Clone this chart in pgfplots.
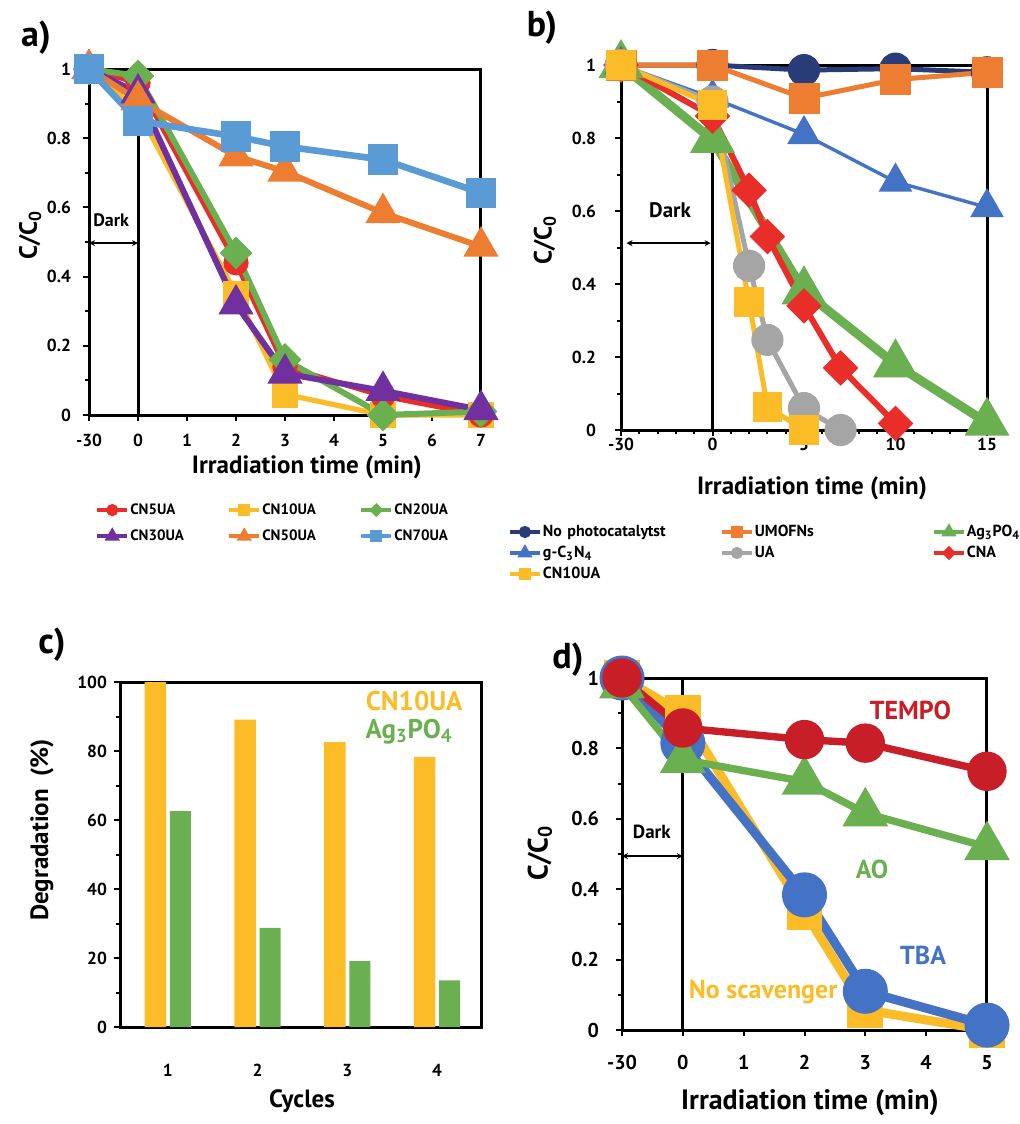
\documentclass[border=0pt]{standalone}
\usepackage{fontspec}
\setmainfont{PT Sans}
\usepackage{pgfplots}
\pgfplotsset{compat=1.18}
\usetikzlibrary{arrows.meta}

\definecolor{cred}{RGB}{233,45,40}
\definecolor{cgold}{RGB}{252,188,40}
\definecolor{cgreen}{RGB}{106,176,80}
\definecolor{cpurple}{RGB}{112,48,160}
\definecolor{corange}{RGB}{237,125,49}
\definecolor{clblue}{RGB}{91,155,213}
\definecolor{cnavy}{RGB}{40,60,120}
\definecolor{cbblue}{RGB}{68,114,196}
\definecolor{cgrey}{RGB}{165,165,165}
\definecolor{cdred}{RGB}{200,30,40}

\tikzset{dark/.style={<->, >={Stealth[length=3pt,width=3pt]}, line width=0.8pt}}
\pgfplotsset{
  panel/.style={
    scale only axis, clip=false,
    axis line style={line width=1.5pt},
    tick align=outside, xtick pos=bottom, ytick pos=left,
    major tick length=3pt, minor tick length=2pt,
    every tick/.style={black, line width=1pt},
    tick label style={font=\bfseries\fontsize{8.7}{10}\selectfont},
    /pgf/number format/assume math mode=true,
    label style={font=\bfseries\fontsize{12.5}{14}\selectfont},
    legend image code/.code={\draw[mark repeat=2,mark phase=2,#1] plot coordinates {(0pt,0pt) (7.5pt,0pt) (15pt,0pt)};},
    legend columns=3,
  },
}

\begin{document}
\begin{tikzpicture}
\useasboundingbox (0pt,0pt) rectangle (509.5pt,-562pt);

% ---------------- panel a ----------------
\begin{axis}[panel, at={(44.5pt,-207.5pt)}, anchor=south west, width=196pt, height=173pt,
  xmin=0, xmax=8, ymin=0, ymax=1,
  xtick={0,1,2,3,4,5,6,7,8}, xticklabels={-30,0,1,2,3,4,5,6,7},
  ytick={0,0.2,0.4,0.6,0.8,1}, minor ytick={0.1,0.3,0.5,0.7,0.9},
  xticklabel style={yshift=-3pt}, yticklabel style={xshift=-2.5pt},
  xlabel={Irradiation time (min)}, ylabel={C/C\textsubscript{0}},
  xlabel style={at={(ticklabel cs:0.556)}, anchor=north, inner sep=0pt, yshift=-1pt},
  ylabel style={at={(axis description cs:-0.15,0.52)}, anchor=center},
  legend style={at={(0.015,-0.252)}, anchor=north west, draw=none, fill=none, inner sep=0pt,
    font=\bfseries\fontsize{7.5}{8}\selectfont,
    nodes={inner xsep=0.5pt, inner ysep=0pt, text width=48pt, align=left, text height=6pt, text depth=1.5pt},
    row sep=5.5pt, column sep=0pt},
]
\addlegendimage{cred, line width=2pt, mark=*, mark size=2pt}
\addlegendentry{CN5UA}
\addlegendimage{cgold, line width=2pt, mark=square*, mark size=2pt}
\addlegendentry{CN10UA}
\addlegendimage{cgreen, line width=2pt, mark=square*, mark size=1.5pt, mark options={rotate=45}}
\addlegendentry{CN20UA}
\addlegendimage{cpurple, line width=2pt, mark=triangle*, mark size=2.4pt}
\addlegendentry{CN30UA}
\addlegendimage{corange, line width=2pt, mark=triangle*, mark size=2.4pt}
\addlegendentry{CN50UA}
\addlegendimage{clblue, line width=2pt, mark=square*, mark size=2pt}
\addlegendentry{CN70UA}

\addplot[forget plot, black, line width=1.5pt] coordinates {(1,0) (1,1)};
\draw[dark] (axis cs:0,0.497) -- (axis cs:1,0.497);
\node[anchor=west, font=\bfseries\fontsize{9}{10}\selectfont, inner sep=0pt] at (axis cs:0.08,0.564) {Dark};

\addplot[forget plot, cgold, line width=2.6pt, mark=square*, mark size=5.4pt]
  coordinates {(0,1) (1,0.88) (3,0.35) (4,0.06) (6,0.0) (8,0.0)};
\addplot[forget plot, cred, line width=2.6pt, mark=*, mark size=5pt]
  coordinates {(0,1) (1,0.96) (3,0.44) (4,0.14) (6,0.055) (8,0.0)};
\addplot[forget plot, cgreen, line width=3pt, mark=square*, mark size=4.3pt, mark options={rotate=45}]
  coordinates {(0,1) (1,0.98) (3,0.468) (4,0.16) (6,0.0) (8,0.01)};
\addplot[forget plot, cpurple, line width=3pt, mark=triangle*, mark size=7.2pt]
  coordinates {(0,1) (1,0.93) (3,0.32) (4,0.12) (6,0.07) (8,0.015)};
\addplot[forget plot, corange, line width=3pt, mark=triangle*, mark size=7.2pt]
  coordinates {(0,1) (1,0.91) (3,0.748) (4,0.704) (6,0.584) (8,0.487)};
\addplot[forget plot, clblue, line width=3.3pt, mark=square*, mark size=6pt]
  coordinates {(0,1) (1,0.85) (3,0.805) (4,0.776) (6,0.738) (8,0.642)};
\end{axis}

% ---------------- panel b ----------------
\begin{axis}[panel, at={(310.5pt,-215pt)}, anchor=south west, width=183pt, height=182.5pt,
  xmin=-5, xmax=15, ymin=0, ymax=1,
  xtick={-5,0,5,10,15}, xticklabels={-30,0,5,10,15},
  minor xtick={-4,-3,-2,-1,1,2,3,4,6,7,8,9,11,12,13,14},
  ytick={0,0.2,0.4,0.6,0.8,1}, minor ytick={0.1,0.3,0.5,0.7,0.9},
  xticklabel style={yshift=2.5pt}, yticklabel style={xshift=-6pt},
  xlabel={Irradiation time (min)}, ylabel={C/C\textsubscript{0}},
  xlabel style={at={(axis description cs:0.522,-0.159)}, anchor=center},
  ylabel style={at={(axis description cs:-0.208,0.52)}, anchor=center},
  legend style={at={(-0.31,-0.255)}, anchor=north west, draw=none, fill=none, inner sep=0pt,
    font=\bfseries\fontsize{8}{9}\selectfont,
    nodes={inner xsep=0.5pt, inner ysep=0pt, text width=88pt, align=left, text height=6.5pt, text depth=2pt},
    row sep=2pt, column sep=0pt},
]
\addlegendimage{cnavy, line width=2pt, mark=*, mark size=2pt}
\addlegendentry{No photocatalytst}
\addlegendimage{corange, line width=2pt, mark=square*, mark size=2pt}
\addlegendentry{UMOFNs}
\addlegendimage{cgreen, line width=2pt, mark=triangle*, mark size=2.4pt}
\addlegendentry{Ag\textsubscript{3}PO\textsubscript{4}}
\addlegendimage{cbblue, line width=2pt, mark=triangle*, mark size=2.4pt}
\addlegendentry{g-C\textsubscript{3}N\textsubscript{4}}
\addlegendimage{cgrey, line width=2pt, mark=*, mark size=2pt}
\addlegendentry{UA}
\addlegendimage{cred, line width=2pt, mark=square*, mark size=1.5pt, mark options={rotate=45}}
\addlegendentry{CNA}
\addlegendimage{cgold, line width=2pt, mark=square*, mark size=2pt}
\addlegendentry{CN10UA}

\addplot[forget plot, black, line width=1.5pt] coordinates {(0,0) (0,1)};
\draw[dark] (axis cs:-4.7,0.512) -- (axis cs:-0.1,0.512);
\node[font=\bfseries\fontsize{10.5}{12}\selectfont, inner sep=0pt] at (axis cs:-2.32,0.603) {Dark};

\addplot[forget plot, cnavy, line width=2.5pt, mark=*, mark size=6.8pt]
  coordinates {(-5,1) (0,1) (5,0.986) (10,0.99) (15,0.98)};
\addplot[forget plot, cgreen, line width=4.5pt, mark=triangle*, mark size=8.5pt]
  coordinates {(-5,1) (0,0.795) (5,0.38) (10,0.18) (15,0.02)};
\addplot[forget plot, cbblue, line width=1.7pt, mark=triangle*, mark size=8pt]
  coordinates {(-5,1) (0,0.91) (5,0.81) (10,0.68) (15,0.61)};
\addplot[forget plot, cred, line width=3pt, mark=square*, mark size=4.8pt, mark options={rotate=45}]
  coordinates {(-5,1) (0,0.86) (2,0.657) (3,0.53) (5,0.34) (7,0.17) (10,0.018)};
\addplot[forget plot, cgrey, line width=2.5pt, mark=*, mark size=6.8pt]
  coordinates {(-5,1) (0,0.9) (2,0.45) (3,0.247) (5,0.06) (7,0.0)};
\addplot[forget plot, corange, line width=2.5pt, mark=square*, mark size=6.5pt]
  coordinates {(-5,1) (0,1) (5,0.909) (10,0.96) (15,0.98)};
\addplot[forget plot, cgold, line width=2.5pt, mark=square*, mark size=6.2pt]
  coordinates {(-5,1) (0,0.89) (2,0.35) (3,0.064) (5,0.0)};
\end{axis}

% ---------------- panel c ----------------
\begin{axis}[panel, at={(60pt,-513.5pt)}, anchor=south west, width=180.5pt, height=172.5pt,
  xmin=0.467, xmax=4.489, ymin=0, ymax=100,
  xtick={1,2,3,4}, major x tick style={draw=none},
  ytick={0,20,40,60,80,100}, minor ytick={10,30,50,70,90},
  xticklabel style={yshift=-12pt}, yticklabel style={xshift=0pt},
  xlabel={Cycles}, ylabel={Degradation\ \ (\%)},
  xlabel style={at={(ticklabel cs:0.504)}, anchor=north, inner sep=0pt, yshift=-3pt},
  ylabel style={at={(axis description cs:-0.216,0.571)}, anchor=center},
]
\addplot[ybar, forget plot, fill=cgold, draw=none, bar width=0.24, bar shift=-0.14]
  coordinates {(1,100) (2,89.1) (3,82.6) (4,78.3)};
\addplot[ybar, forget plot, fill=cgreen, draw=none, bar width=0.235, bar shift=0.14]
  coordinates {(1,62.6) (2,28.7) (3,19.1) (4,13.5)};
\node[text=cgold, font=\bfseries\fontsize{13.5}{14}\selectfont, inner sep=0pt] at (axis cs:3.745,94.6) {CN10UA};
\node[text=cgreen, font=\bfseries\fontsize{13.5}{14}\selectfont, inner sep=0pt] at (axis cs:3.689,85.6) {Ag\textsubscript{3}PO\textsubscript{4}};
\end{axis}

% ---------------- panel d ----------------
\begin{axis}[panel, at={(311pt,-515pt)}, anchor=south west, width=182.5pt, height=176pt,
  xmin=0, xmax=6, ymin=0, ymax=1,
  xtick={0,1,2,3,4,5,6}, xticklabels={-30,0,1,2,3,4,5},
  ytick={0,0.2,0.4,0.6,0.8,1}, minor ytick={0.1,0.3,0.5,0.7,0.9},
  tick label style={font=\bfseries\fontsize{10}{11}\selectfont},
  xticklabel style={yshift=-6pt}, yticklabel style={xshift=-5pt},
  xlabel={Irradiation time (min)}, ylabel={C/C\textsubscript{0}},
  label style={font=\bfseries\fontsize{14}{15}\selectfont},
  xlabel style={at={(axis description cs:0.515,-0.207)}, anchor=center},
  ylabel style={at={(axis description cs:-0.225,0.503)}, anchor=center},
]
\addplot[forget plot, black, line width=1.5pt] coordinates {(1,0) (1,1)};
\draw[dark] (axis cs:0,0.494) -- (axis cs:1,0.494);
\node[font=\bfseries\fontsize{9.5}{11}\selectfont, inner sep=0pt] at (axis cs:0.49,0.5625) {Dark};

\addplot[forget plot, cgold, line width=4.5pt, mark=square*, mark size=6.7pt]
  coordinates {(0,1) (1,0.9) (3,0.336) (4,0.057) (6,0.0)};
\addplot[forget plot, cbblue, line width=4.5pt, mark=*, mark size=9pt]
  coordinates {(0,1) (1,0.815) (3,0.384) (4,0.11) (6,0.014)};
\addplot[forget plot, cgreen, line width=3.7pt, mark=triangle*, mark size=9.5pt]
  coordinates {(0,0.98) (1,0.768) (3,0.706) (4,0.616) (6,0.52)};
\addplot[forget plot, cdred, line width=3.7pt, mark=*, mark size=8pt]
  coordinates {(0,1) (1,0.858) (3,0.825) (4,0.815) (6,0.735)};

\node[text=cdred, font=\bfseries\fontsize{13}{14}\selectfont, inner sep=0pt] at (axis cs:4.74,0.909) {TEMPO};
\node[text=cgreen, font=\bfseries\fontsize{13}{14}\selectfont, inner sep=0pt] at (axis cs:4.11,0.455) {AO};
\node[text=cbblue, font=\bfseries\fontsize{13}{14}\selectfont, inner sep=0pt] at (axis cs:4.95,0.213) {TBA};
\node[text=cgold, font=\bfseries\fontsize{13}{14}\selectfont, inner sep=0pt] at (axis cs:2.32,0.108) {No scavenger};
\end{axis}

% panel letters
\node[font=\bfseries\fontsize{18}{18}\selectfont] at (18pt,-19pt) {a)};
\node[font=\bfseries\fontsize{18}{18}\selectfont] at (271pt,-14pt) {b)};
\node[font=\bfseries\fontsize{18}{18}\selectfont] at (26pt,-322.5pt) {c)};
\node[font=\bfseries\fontsize{18}{18}\selectfont] at (284pt,-330pt) {d)};
\end{tikzpicture}
\end{document}
